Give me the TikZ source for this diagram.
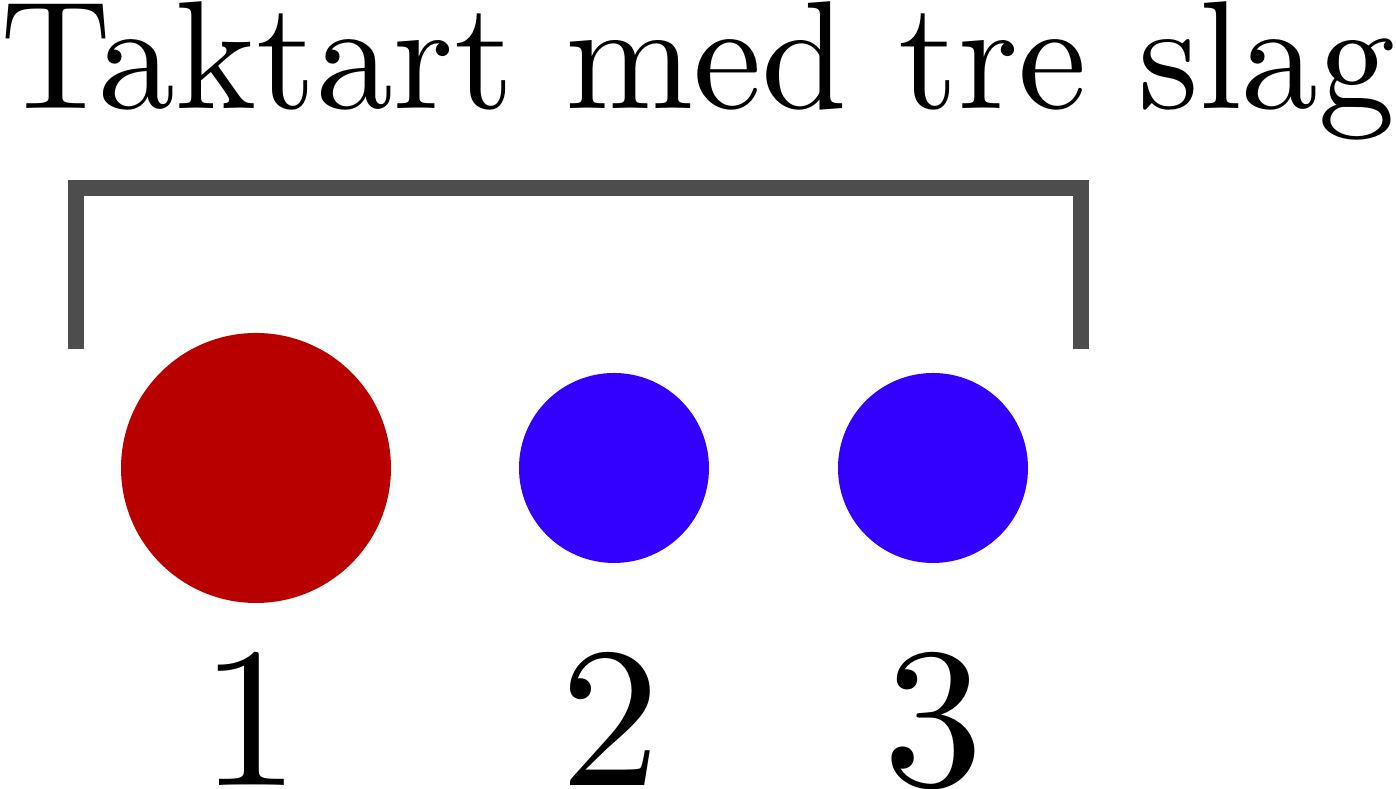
\documentclass[tikz,border=0pt]{standalone}
\usepackage{fontspec}
\setmainfont{lmroman10-regular.otf}
\usetikzlibrary{positioning}
\definecolor{slagred}{RGB}{184,0,0}
\definecolor{slagblue}{RGB}{51,0,255}
\definecolor{bargray}{RGB}{77,77,77}

\begin{document}
\begin{tikzpicture}[beat/.style={circle,fill=#1,inner sep=0pt},
                    num/.style={anchor=base,inner sep=0pt,font=\fontsize{56.9}{60}\selectfont},
                    heading/.style={anchor=base,inner sep=0pt,font=\fontsize{43.8}{48}\selectfont}]

                \useasboundingbox (0,0) rectangle (13.96,7.89);

                \node[heading] (title) at (6.98,6.80) {Taktart med tre slag};

                % bracket over the bar
                \coordinate (bl) at (0.76,4.40);
                \coordinate (top) at (5.78,6.01);
                \coordinate (br) at (10.81,4.40);
                \draw[bargray,line width=4.3pt] (bl) |- (top) -| (br);

                \node[beat=slagred,minimum size=2.70cm] (s1) at (2.56,3.21) {};
                \node[beat=slagblue,minimum size=1.90cm] (s2) at (6.14,3.21) {};
                \node[beat=slagblue,minimum size=1.90cm] (s3) at (9.33,3.21) {};

                \foreach \n/\x in {1/2.50, 2/6.10, 3/9.33}
                    {
                    \node[num] (n\n) at (\x,0.03) {\n};
                    }

            \end{tikzpicture}
\end{document}
